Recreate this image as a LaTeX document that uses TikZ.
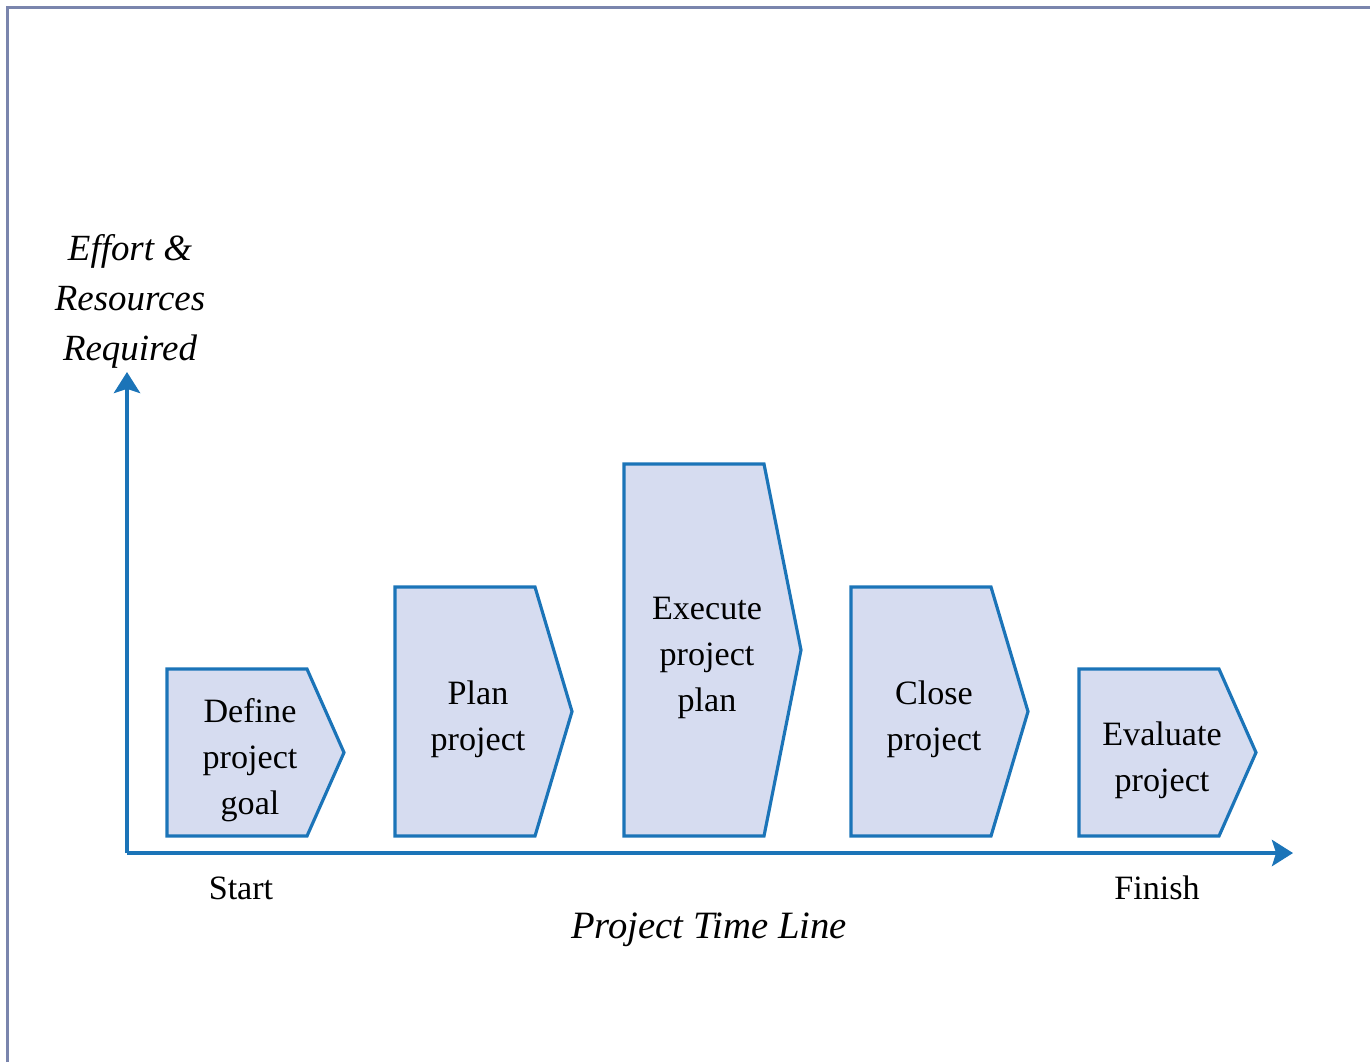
\documentclass[tikz,border=0pt]{standalone}
\usepackage{fontspec}
\setmainfont{Liberation Serif}
\usetikzlibrary{arrows.meta}

\definecolor{axisblue}{HTML}{1B74B8}
\definecolor{phasefill}{HTML}{D6DCF0}
\definecolor{framegray}{HTML}{7A85AD}

% one phase of the project: name, left edge, top edge, label
\newcommand{\phase}[4]{%
  \draw[phasebox] (#2,836) -- (#2,#3) -- ({#2+140},#3)
    -- ({#2+177},{(#3+836)/2}) -- ({#2+140},836) -- cycle;
  \node[phasetext] (#1) at ({#2+83},{(#3+836)/2+8}) {#4};
}

\begin{document}
\begin{tikzpicture}[x=0.01cm, y=-0.01cm,
    phasebox/.style={draw=axisblue, fill=phasefill, line width=0.9pt, line join=miter},
    phasetext/.style={align=center, font=\fontsize{9.7}{13.1}\selectfont},
    axis/.style={draw=axisblue, line width=0.9pt, -{Stealth[length=6pt, width=7.5pt, inset=1.2pt]}},
    axislabel/.style={align=center, font=\fontsize{10.5}{14.2}\selectfont\itshape}]
  \useasboundingbox (0,0) rectangle (1370,1062);
  % frame
  \draw[framegray, line width=0.85pt] (7.5,1062) -- (7.5,7.5) -- (1370,7.5);

  % axes
  \coordinate (origin) at (127,853);
  \coordinate (ytop) at (127,372);
  \coordinate (xend) at (1293,853);
  \draw[axis] (origin) -- (ytop);
  \draw[axis] (origin) -- (xend);

  % phases
  \phase{define}{167}{669}{Define\\project\\goal}
  \phase{plan}{395}{587}{Plan\\project}
  \phase{execute}{624}{464}{Execute\\project\\plan}
  \phase{close}{851}{587}{Close\\project}
  \phase{evaluate}{1079}{669}{Evaluate\\project}

  % labels
  \node[axislabel] (effort) at (130,301) {Effort \&\\Resources\\Required};
  \node[phasetext] (start) at (241,888) {Start};
  \node[phasetext] (finish) at (1157,888) {Finish};
  \node[axislabel, font=\fontsize{11}{13}\selectfont\itshape] (timeline) at (709,930) {Project Time Line};
\end{tikzpicture}
\end{document}
